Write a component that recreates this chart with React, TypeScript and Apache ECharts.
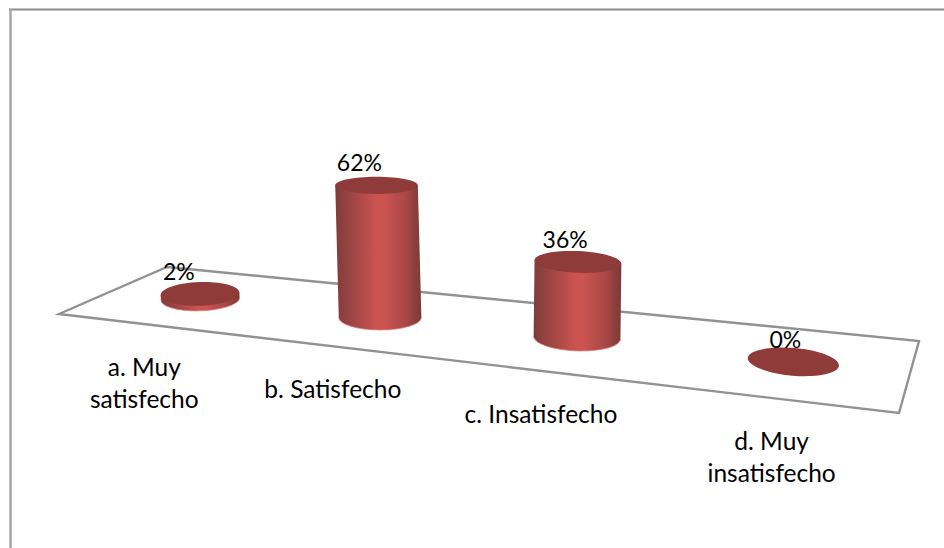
import React, { useEffect, useRef } from "react";
import * as echarts from "echarts";

const categories = ["a. Muy\nsatisfecho", "b. Satisfecho", "c. Insatisfecho", "d. Muy\ninsatisfecho"];
const percentages = [2, 62, 36, 0];

const FONT = "Lato, 'Open Sans', sans-serif";
const GRID = { left: 59, top: 100, width: 840, height: 213 };

// Corners of the slanted floor on screen: back-left, back-right, front-right, front-left.
const FLOOR: number[][] = [
  [167, 267],
  [919, 341],
  [899, 413],
  [59, 314],
];

// Square-to-quad homography, so floor positions keep their perspective.
function makeProjection(q: number[][]) {
  const [[x0, y0], [x1, y1], [x2, y2], [x3, y3]] = q;
  const dx1 = x1 - x2, dx2 = x3 - x2, sx = x0 - x1 + x2 - x3;
  const dy1 = y1 - y2, dy2 = y3 - y2, sy = y0 - y1 + y2 - y3;
  const det = dx1 * dy2 - dx2 * dy1;
  const g = (sx * dy2 - dx2 * sy) / det;
  const h = (dx1 * sy - sx * dy1) / det;
  const a = x1 - x0 + g * x1, b = x3 - x0 + h * x3;
  const d = y1 - y0 + g * y1, e = y3 - y0 + h * y3;
  return (u: number, v: number) => {
    const w = g * u + h * v + 1;
    return [(a * u + b * v + x0) / w, (d * u + e * v + y0) / w];
  };
}
const project = makeProjection(FLOOR);

// Cylinders bunch a little toward the middle of the floor.
const floorU = (u: number) => u + 0.012 - 0.048 * (u - 0.5) * (u - 0.5);

const radiusX = (x: number) => 37.2 + 0.0108 * x;
const radiusY = (y: number) => 3 + 0.03 * y;
const tiltAt = (x: number) => ((-2 + ((x - 201) * 7) / 592) * Math.PI) / 180;

const BODY_FILL = {
  type: "linear",
  x: 0, y: 0, x2: 1, y2: 0,
  colorStops: [
    { offset: 0, color: "#7e3c3a" },
    { offset: 0.14, color: "#954341" },
    { offset: 0.48, color: "#cb5451" },
    { offset: 0.56, color: "#cb5451" },
    { offset: 0.82, color: "#a94846" },
    { offset: 1, color: "#7a3937" },
  ],
};

function renderCylinder(params: any, api: any) {
  const index = api.value(0);
  const value = api.value(1);
  const u = floorU((api.coord([index, 0])[0] - GRID.left) / GRID.width);

  const [baseX, baseY] = project(u, 0.5);
  const height = api.size([0, value])[1];
  // Uprights splay slightly away from the centre of the view.
  const topX = baseX + (baseX - 514) * 0.0002 * height;
  const topY = baseY - height;

  const rx = radiusX(baseX);
  const rBase = radiusY(baseY);
  const rTop = radiusY(topY);
  const tilt = tiltAt(baseX);
  const cos = Math.cos(tilt), sin = Math.sin(tilt);
  const tiltDeg = (tilt * 180) / Math.PI;

  const left = (cx: number, cy: number) => `${cx - rx * cos} ${cy - rx * sin}`;
  const right = (cx: number, cy: number) => `${cx + rx * cos} ${cy + rx * sin}`;
  const frontArc = `A ${rx} ${rBase} ${tiltDeg} 0 0 ${right(baseX, baseY)}`;

  const children: any[] = [];
  if (value > 0) {
    children.push({
      type: "path",
      shape: {
        pathData: `M ${left(topX, topY)} L ${left(baseX, baseY)} ${frontArc} L ${right(topX, topY)} Z`,
      },
      style: { fill: BODY_FILL },
    });
    children.push({
      type: "path",
      shape: { pathData: `M ${left(baseX, baseY)} ${frontArc}` },
      style: { fill: "none", stroke: "#dd7471", lineWidth: 1, opacity: 0.75 },
    });
  }
  children.push({
    type: "ellipse",
    x: topX,
    y: topY,
    rotation: -tilt,
    shape: { cx: 0, cy: 0, rx, ry: rTop },
    style: { fill: "#8f3b3a" },
  });
  children.push({
    type: "text",
    x: topX - 25.5 + 0.022 * baseX,
    y: topY - 23,
    style: {
      text: `${value}%`,
      font: `23px ${FONT}`,
      fill: "#000000",
      align: "center",
      verticalAlign: "middle",
    },
  });

  // Category name sits a fixed distance below the floor's front edge.
  const [edgeX, edgeY] = project(u, 1);
  children.push({
    type: "text",
    x: edgeX - 2.5,
    y: edgeY + 26,
    style: {
      text: categories[index],
      font: `24.5px ${FONT}`,
      lineHeight: 32,
      fill: "#000000",
      align: "center",
      verticalAlign: "top",
    },
  });

  return { type: "group", children };
}

export default function App() {
  const ref = useRef<HTMLDivElement>(null);

  useEffect(() => {
    document.body.style.margin = "0";
    const chart = echarts.init(ref.current!, null, { renderer: "svg" });
    chart.setOption({
      animation: false,
      backgroundColor: "#ffffff",
      grid: { ...GRID },
      xAxis: { type: "category", data: categories, show: false },
      yAxis: { type: "value", min: 0, max: 100, show: false },
      graphic: [
        {
          type: "line",
          z: 0,
          shape: { x1: 9, y1: 9.5, x2: 944, y2: 9.5 },
          style: { stroke: "#8a8a8a", lineWidth: 2 },
        },
        {
          type: "line",
          z: 0,
          shape: { x1: 10.5, y1: 9, x2: 10.5, y2: 548 },
          style: { stroke: "#a6a6a6", lineWidth: 2.5 },
        },
        {
          type: "polygon",
          z: 0,
          shape: { points: FLOOR },
          style: { fill: "#ffffff", stroke: "#929292", lineWidth: 2.4, lineJoin: "miter" },
        },
      ],
      series: [
        {
          type: "custom",
          coordinateSystem: "cartesian2d",
          renderItem: renderCylinder,
          encode: { x: 0, y: 1 },
          data: percentages.map((v, i) => [i, v]),
          silent: true,
        },
      ],
    });
    return () => chart.dispose();
  }, []);

  return <div ref={ref} style={{ width: 944, height: 548 }} />;
}
